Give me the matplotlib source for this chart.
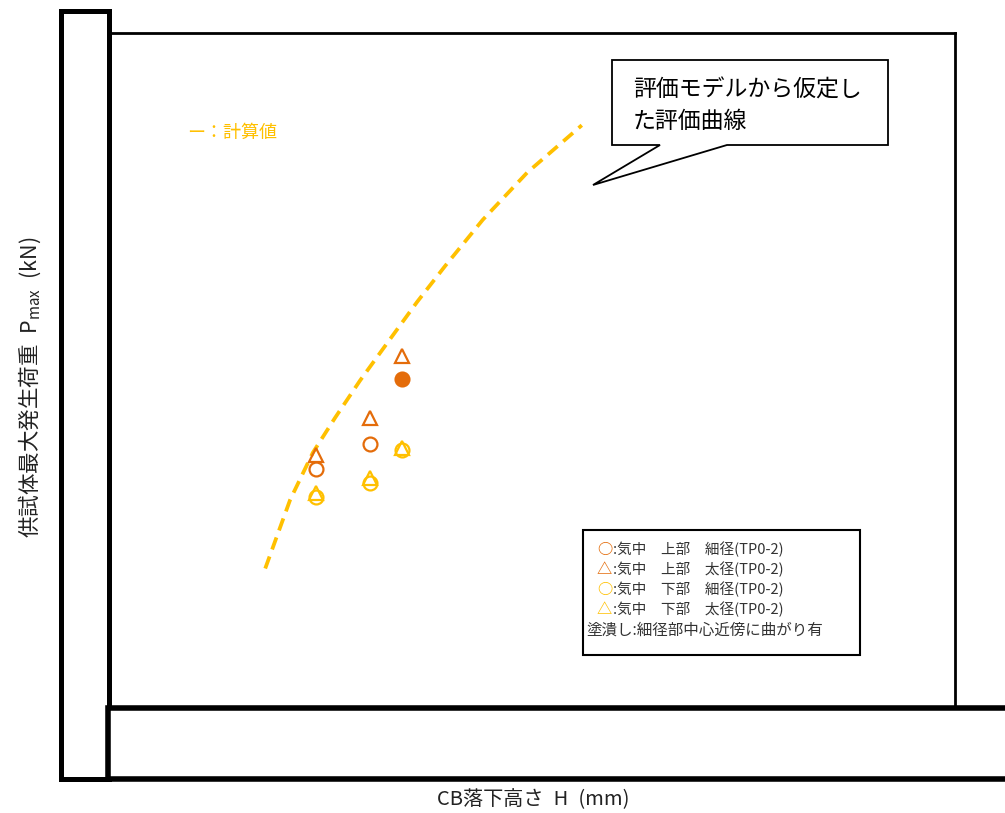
import matplotlib
matplotlib.use("Agg")
import matplotlib.pyplot as plt
from matplotlib.patches import Rectangle, Polygon

plt.rcParams['font.family'] = ['Noto Sans CJK JP', 'DejaVu Sans']

# drop height H (mm) of the three test groups
H_mm = [392, 494, 555]
# max load P (kN) per series
upper_thin = [212, 235, 292]     # 気中 上部 細径
upper_thick = [225, 258, 313]    # 気中 上部 太径
lower_thin = [188, 200, 229]     # 気中 下部 細径
lower_thick = [191, 204, 231]    # 気中 下部 太径
bent = [False, False, True]      # 塗潰し: 細径部中心近傍に曲がり有

# assumed evaluation curve (計算値)
curve_H = [297, 344, 387, 429, 476, 533, 584, 637, 708, 792, 895]
curve_P = [124, 185, 227, 258, 291, 328, 361, 393, 434, 476, 518]

legend_rows = [("○", "#E46C0A", ":気中　上部　細径(TP0-2)"),
               ("△", "#E46C0A", ":気中　上部　太径(TP0-2)"),
               ("○", "#FFC000", ":気中　下部　細径(TP0-2)"),
               ("△", "#FFC000", ":気中　下部　太径(TP0-2)")]

W, Hpx = 1005, 813
fig = plt.figure(figsize=(W / 100, Hpx / 100), dpi=100)
ax = fig.add_axes([108 / W, (Hpx - 708) / Hpx, 847 / W, 675 / Hpx])
ax.set_xlim(0, 1600)
ax.set_ylim(0, 600)
ax.set_xticks([])
ax.set_yticks([])
for s in ax.spines.values():
    s.set_linewidth(2.0)

ax.plot(curve_H, curve_P, color="#FFC000", lw=2.7, ls=(0, (3.4, 2.0)))

dark = "#E46C0A"
gold = "#FFC000"
ms = 10
for h, p in zip(H_mm, lower_thin):
    ax.plot(h, p, marker="o", ms=ms, mfc="none", mec=gold, mew=1.6)
for h, p in zip(H_mm, lower_thick):
    ax.plot(h, p, marker="^", ms=ms, mfc="none", mec=gold, mew=1.6)
for h, p, b in zip(H_mm, upper_thin, bent):
    ax.plot(h, p, marker="o", ms=ms, mfc=dark if b else "none", mec=dark, mew=1.6)
for h, p in zip(H_mm, upper_thick):
    ax.plot(h, p, marker="^", ms=ms, mfc="none", mec=dark, mew=1.6)

# overlay in pixel coordinates
ov = fig.add_axes([0, 0, 1, 1])
ov.set_xlim(0, W)
ov.set_ylim(Hpx, 0)
ov.axis("off")
ov.set_zorder(5)

ov.add_patch(Rectangle((60.5, 11.5), 48, 767, fc="white", ec="black", lw=3.6))
ov.add_patch(Rectangle((108, 708), 910, 71, fc="white", ec="black", lw=4.0))

ov.text(187, 133, "ー：計算値", color=gold, fontsize=13, va="center", ha="left")

callout = [(612, 60), (888, 60), (888, 145), (727, 145), (593, 185),
           (660, 145), (612, 145)]
ov.add_patch(Polygon(callout, closed=True, fc="white", ec="black", lw=1.3))
ov.text(633, 90, "評価モデルから仮定し", fontsize=16.5, va="center", ha="left")
ov.text(633, 121, "た評価曲線", fontsize=16.5, va="center", ha="left")

ov.add_patch(Rectangle((583, 530), 277, 125, fc="white", ec="black", lw=1.5))
y0 = 549
for i, (sym, col, txt) in enumerate(legend_rows):
    y = y0 + i * 20
    ov.text(597, y, sym, color=col, fontsize=11, va="center", ha="left",
            fontweight="bold")
    ov.text(613, y, txt, color="#333333", fontsize=10.5, va="center", ha="left")
ov.text(586, y0 + 4 * 20 + 1, "塗潰し:細径部中心近傍に曲がり有", color="#333333",
        fontsize=11.2, va="center", ha="left")

ov.text(533, 800, "CB落下高さ\u2002H\u2002(mm)", fontsize=14.5, va="center",
        ha="center", color="#222222")
ov.text(30, 387, "供試体最大発生荷重\u2002P$_{\\mathregular{max}}$\u2002(kN)",
        fontsize=15.5, rotation=90, va="center", ha="center", color="#222222")

fig.savefig("out.png", dpi=100)
